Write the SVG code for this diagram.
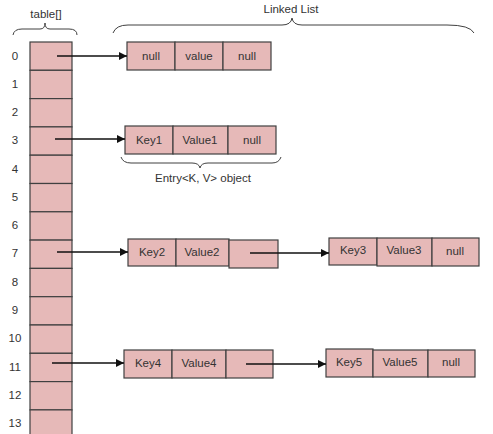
<svg xmlns="http://www.w3.org/2000/svg" width="493" height="434" viewBox="0 0 493 434">
<defs>
<style>
.cell{fill:#e6b9b8;stroke:#404040;stroke-width:1.2}
.t{font-family:"Liberation Sans",Arial,sans-serif;font-size:11.5px;fill:#333333;text-anchor:middle}
.idx{font-family:"Liberation Sans",Arial,sans-serif;font-size:11.5px;fill:#333333;text-anchor:middle}
.brace{fill:none;stroke:#404040;stroke-width:1}
.conn{stroke:#111;stroke-width:1.6;fill:none;marker-end:url(#ah)}
</style>
<marker id="ah" markerWidth="9" markerHeight="9" refX="8" refY="4.5" orient="auto" markerUnits="userSpaceOnUse">
<path d="M0,0.5 L8,4.5 L0,8.5 Z" fill="#111"/>
</marker>
</defs>
<rect width="493" height="434" fill="#ffffff"/>

<g id="table">
<text class="t" x="46" y="18" font-size="12.5">table[]</text>
<path class="brace" d="M13,35 Q14,29 22,29 L40,29 Q45,29 45,23 Q45,29 50,29 L69,29 Q77,29 77,35"/>
<rect class="cell" x="30" y="42" width="42" height="28.3"/>
<rect class="cell" x="30" y="70.3" width="42" height="28.3"/>
<rect class="cell" x="30" y="98.6" width="42" height="28.3"/>
<rect class="cell" x="30" y="126.9" width="42" height="28.3"/>
<rect class="cell" x="30" y="155.2" width="42" height="28.3"/>
<rect class="cell" x="30" y="183.5" width="42" height="28.3"/>
<rect class="cell" x="30" y="211.8" width="42" height="28.3"/>
<rect class="cell" x="30" y="240.1" width="42" height="28.3"/>
<rect class="cell" x="30" y="268.4" width="42" height="28.3"/>
<rect class="cell" x="30" y="296.7" width="42" height="28.3"/>
<rect class="cell" x="30" y="325" width="42" height="28.3"/>
<rect class="cell" x="30" y="353.3" width="42" height="28.3"/>
<rect class="cell" x="30" y="381.6" width="42" height="28.3"/>
<rect class="cell" x="30" y="409.9" width="42" height="28.3"/>
<text class="idx" x="15" y="60">0</text>
<text class="idx" x="15" y="88">1</text>
<text class="idx" x="15" y="116">2</text>
<text class="idx" x="15" y="144">3</text>
<text class="idx" x="15" y="173">4</text>
<text class="idx" x="15" y="201">5</text>
<text class="idx" x="15" y="229">6</text>
<text class="idx" x="15" y="257">7</text>
<text class="idx" x="15" y="286">8</text>
<text class="idx" x="15" y="314">9</text>
<text class="idx" x="15" y="342">10</text>
<text class="idx" x="15" y="371">11</text>
<text class="idx" x="15" y="399">12</text>
<text class="idx" x="15" y="427">13</text>
</g>

<g id="linked-list-label">
<text class="t" x="291" y="13" font-size="12.5">Linked List</text>
<path class="brace" d="M113,33 Q116,25 128,25 L282,25 Q291,25 292,18 Q293,25 302,25 L447,25 Q470,25 474,33"/>
</g>

<g id="node0">
<rect class="cell" x="127" y="42" width="48" height="28"/>
<rect class="cell" x="175" y="42" width="48" height="28"/>
<rect class="cell" x="223" y="42" width="48" height="28"/>
<text class="t" x="151" y="60">null</text>
<text class="t" x="199" y="60">value</text>
<text class="t" x="247" y="60">null</text>
</g>

<g id="node1">
<rect class="cell" x="125" y="126" width="48" height="28"/>
<rect class="cell" x="173" y="126" width="55" height="28"/>
<rect class="cell" x="228" y="126" width="48" height="28"/>
<text class="t" x="149" y="144">Key1</text>
<text class="t" x="200" y="144">Value1</text>
<text class="t" x="252" y="144">null</text>
<path class="brace" d="M121,157 Q123,163 131,163 L192,163 Q199,163 200,168 Q201,163 208,163 L272,163 Q279,163 281,157"/>
<text class="t" x="203" y="182" font-size="12.5">Entry&lt;K, V&gt; object</text>
</g>

<g id="node2">
<rect class="cell" x="128" y="239" width="48" height="27"/>
<rect class="cell" x="176" y="239" width="53" height="27"/>
<rect class="cell" x="229" y="240" width="49" height="28"/>
<text class="t" x="152" y="256">Key2</text>
<text class="t" x="202" y="256">Value2</text>
</g>

<g id="node3">
<rect class="cell" x="329" y="238" width="48" height="27"/>
<rect class="cell" x="377" y="238" width="55" height="28"/>
<rect class="cell" x="432" y="238" width="47" height="28"/>
<text class="t" x="353" y="254">Key3</text>
<text class="t" x="404" y="254">Value3</text>
<text class="t" x="455" y="255">null</text>
</g>

<g id="node4">
<rect class="cell" x="124" y="350" width="48" height="28"/>
<rect class="cell" x="172" y="350" width="54" height="28"/>
<rect class="cell" x="226" y="350" width="47" height="28"/>
<text class="t" x="148" y="367">Key4</text>
<text class="t" x="199" y="367">Value4</text>
</g>

<g id="node5">
<rect class="cell" x="326" y="349" width="47" height="28"/>
<rect class="cell" x="373" y="350" width="55" height="27"/>
<rect class="cell" x="428" y="350" width="47" height="27"/>
<text class="t" x="349" y="366">Key5</text>
<text class="t" x="400" y="366">Value5</text>
<text class="t" x="451" y="366">null</text>
</g>

<g id="connectors">
<path class="conn" d="M57,56 L127,56"/>
<path class="conn" d="M55,139 L125,139"/>
<path class="conn" d="M57,252 L128,252"/>
<path class="conn" d="M250,253 L329,253"/>
<path class="conn" d="M52,363 L124,363"/>
<path class="conn" d="M246,364 L326,364"/>
</g>
</svg>
